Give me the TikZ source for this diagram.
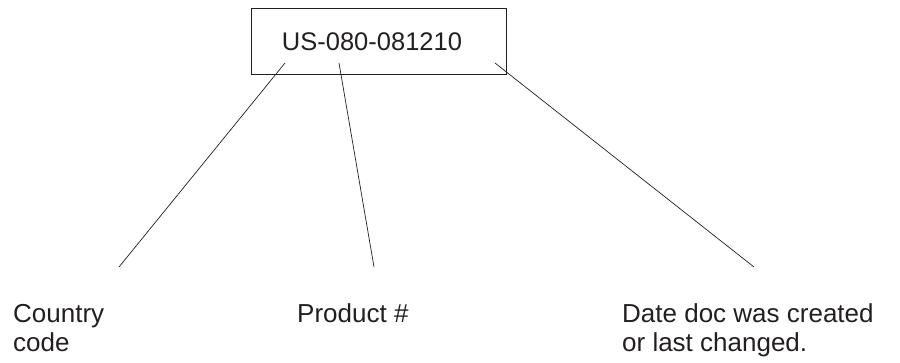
\documentclass[tikz,border=0pt]{standalone}
\usepackage{fontspec}
\setmainfont{Liberation Sans}
\definecolor{ink}{RGB}{35,31,32}
\begin{document}
\begin{tikzpicture}[x=1pt,y=-1pt,
  idbox/.style={draw=ink,line width=1pt,minimum width=255pt,minimum height=66pt,inner sep=0pt},
  idtext/.style={text=ink,inner sep=0pt,font=\fontsize{25.5}{28}\selectfont},
  caption/.style={text=ink,inner sep=0pt,align=left,anchor=base west,font=\fontsize{26}{28.5}\selectfont},
  leader/.style={draw=ink,line width=0.7pt}]
  \useasboundingbox (0,0) rectangle (900,362);

  % document number in its frame
  \node[idbox] (box) at (378.5,41) {};
  \node[idtext] (id) at (372,41.5) {US-080-081210};

  % captions for the three parts of the number (anchored on the last baseline)
  \node[caption] (country) at (13,351) {Country\\code};
  \node[caption] (product) at (297,322.5) {Product \#};
  \node[caption] (date) at (622,351) {Date doc was created\\or last changed.};

  % ends of the leader lines
  \coordinate (c1) at (285,63);
  \coordinate (c2) at (119,267);
  \coordinate (p1) at (339,63);
  \coordinate (p2) at (374,267);
  \coordinate (d1) at (495,63);
  \coordinate (d2) at (754,267);

  \draw[leader] (c1) -- (c2);
  \draw[leader] (p1) -- (p2);
  \draw[leader] (d1) -- (d2);
\end{tikzpicture}
\end{document}
